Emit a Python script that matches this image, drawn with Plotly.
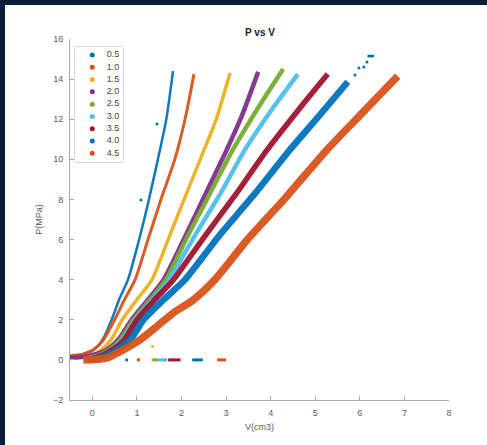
import plotly.graph_objects as go

# ---------------- data ----------------
series_names = ["0.5", "1.0", "1.5", "2.0", "2.5", "3.0", "3.5", "4.0", "4.5"]
series_colors = ["#0072BD", "#D95319", "#EDB120", "#7E2F8E", "#77AC30",
                 "#4DBEEE", "#A2142F", "#0072BD", "#D95319"]

v_05 = [-0.5, -0.25, 0.0, 0.15, 0.3, 0.45, 0.6, 0.8, 1.05, 1.27, 1.52, 1.66, 1.81]
p_05 = [0.15, 0.25, 0.45, 0.75, 1.3, 2.1, 3.0, 4.0, 6.0, 8.0, 10.5, 12.0, 14.4]

v_10 = [-0.5, -0.2, 0.05, 0.25, 0.5, 0.72, 0.96, 1.25, 1.54, 1.85, 2.08, 2.28]
p_10 = [0.2, 0.3, 0.55, 1.0, 2.0, 3.0, 4.0, 6.0, 8.0, 10.0, 12.0, 14.25]

v_15 = [-0.3, 0.0, 0.2, 0.42, 0.67, 1.0, 1.34, 1.7, 2.06, 2.42, 2.78, 3.09]
p_15 = [0.12, 0.25, 0.5, 1.0, 2.0, 3.0, 4.0, 6.0, 8.0, 10.0, 12.0, 14.3]

v_20 = [-0.5, -0.2, 0.1, 0.32, 0.58, 0.88, 1.25, 1.6, 2.05, 2.48, 3.0, 3.36, 3.72]
p_20 = [0.1, 0.15, 0.3, 0.5, 1.0, 2.0, 3.0, 4.0, 6.0, 8.0, 10.4, 12.2, 14.36]

v_25 = [-0.2, 0.1, 0.38, 0.63, 0.92, 1.3, 1.65, 2.1, 2.57, 3.15, 3.7, 4.28]
p_25 = [0.05, 0.2, 0.5, 1.0, 2.0, 3.0, 4.0, 6.0, 8.0, 10.47, 12.5, 14.5]

v_30 = [0.0, 0.2, 0.42, 0.68, 0.96, 1.35, 1.72, 2.3, 2.85, 3.42, 4.0, 4.61]
p_30 = [0.05, 0.2, 0.5, 1.0, 2.0, 3.0, 4.0, 6.2, 8.2, 10.47, 12.4, 14.25]

v_35 = [-0.1, 0.2, 0.45, 0.72, 1.0, 1.4, 1.82, 2.5, 3.2, 3.92, 4.6, 5.28]
p_35 = [0.0, 0.2, 0.5, 1.0, 2.0, 3.0, 4.0, 6.1, 8.2, 10.47, 12.4, 14.25]

v_40 = [0.0, 0.3, 0.55, 0.85, 1.15, 1.6, 2.08, 2.85, 3.65, 4.43, 5.1, 5.73]
p_40 = [0.0, 0.2, 0.5, 1.0, 2.0, 3.0, 4.0, 6.2, 8.3, 10.47, 12.2, 13.86]

v_45 = [-0.2, 0.1, 0.33, 0.69, 1.07, 1.45, 1.81, 2.27, 2.75, 3.48, 4.3, 5.26, 6.05, 6.85]
p_45 = [0.0, 0.03, 0.1, 0.5, 1.0, 1.67, 2.33, 3.0, 4.0, 6.0, 8.0, 10.47, 12.3, 14.15]

# points lying on P = 0 (start, end of each run of V)
zero_runs = [[0.74, 0.80], [1.0, 1.07], [1.33, 1.38], [1.62, 1.65], [1.36, 1.47],
             [1.47, 1.68], [1.70, 1.98], [2.24, 2.48], [2.80, 3.0]]

# sparse / stray points
stray_series = [0, 0, 2, 7, 7, 7, 7, 7, 7, 7]
stray_v = [1.45, 1.09, 1.35, 5.89, 5.98, 6.09, 6.16, 6.20, 6.25, 6.29]
stray_p = [11.76, 7.97, 0.67, 14.2, 14.55, 14.6, 14.85, 15.15, 15.15, 15.15]

curves_v = [v_05, v_10, v_15, v_20, v_25, v_30, v_35, v_40, v_45]
curves_p = [p_05, p_10, p_15, p_20, p_25, p_30, p_35, p_40, p_45]
band_widths = [2.5, 3, 3.5, 4.5, 4.5, 4.5, 5.5, 6.5, 7.5]

x_ticks = [0, 1, 2, 3, 4, 5, 6, 7, 8]
y_ticks = [-2, 0, 2, 4, 6, 8, 10, 12, 14, 16]

# ---------------- layout geometry (pixels) ----------------
W, H = 487, 445
L, R, T, B = 70, 449, 39, 400          # plot area edges
def px_x(p):
    return (p - L) / (R - L)
def px_y(p):
    return (B - p) / (B - T)

fig = go.Figure()

for i in range(len(series_names)):
    fig.add_trace(go.Scatter(
        x=curves_v[i], y=curves_p[i], mode="lines", name=series_names[i],
        line=dict(color=series_colors[i], width=band_widths[i], shape="spline", smoothing=0.6),
        opacity=0.95, showlegend=False, hoverinfo="skip"))
    fig.add_trace(go.Scatter(
        x=zero_runs[i], y=[0, 0], mode="lines", name=series_names[i],
        line=dict(color=series_colors[i], width=3),
        showlegend=False, hoverinfo="skip"))

fig.add_trace(go.Scatter(
    x=stray_v, y=stray_p, mode="markers", showlegend=False,
    marker=dict(size=3, color=[series_colors[k] for k in stray_series]),
    hoverinfo="skip"))

# custom compact legend on an overlay axis
idx = list(range(len(series_names)))
fig.add_trace(go.Scatter(
    x=[0.36] * len(idx), y=idx, mode="markers", xaxis="x2", yaxis="y2",
    marker=dict(size=5, color=series_colors), showlegend=False, hoverinfo="skip"))
fig.add_trace(go.Scatter(
    x=[0.66] * len(idx), y=idx, mode="text", xaxis="x2", yaxis="y2",
    text=series_names, textposition="middle right",
    textfont=dict(family="Liberation Sans, Arial, sans-serif", size=9, color="#444444"),
    showlegend=False, hoverinfo="skip"))

axis_col = "#a8a8a8"
tick_font = dict(family="Liberation Sans, Arial, sans-serif", size=9, color="#5a5a5a")

leg_top, leg_bot = 47, 162
row0, row8 = 55, 153.3
step = (row8 - row0) / 8

fig.update_layout(
    width=W, height=H, autosize=False,
    margin=dict(l=L, r=W - R, t=T, b=H - B, pad=0),
    paper_bgcolor="#0b1e37", plot_bgcolor="white",
    showlegend=False,
    title=dict(text="<b>P vs V</b>", x=260 / W,
               xanchor="center", y=1 - 32 / H, yanchor="middle",
               font=dict(family="Liberation Sans, Arial, sans-serif", size=10, color="#222222")),
    xaxis=dict(range=[-0.5, 8], tickvals=x_ticks, showline=True, linecolor=axis_col,
               linewidth=1, ticks="inside", ticklen=4, tickcolor=axis_col,
               showgrid=False, zeroline=False, tickfont=tick_font, ticklabelstandoff=4,
               title=dict(text="V(cm3)", font=tick_font, standoff=6)),
    yaxis=dict(range=[-2, 16], tickvals=y_ticks, showline=True, linecolor=axis_col,
               linewidth=1, ticks="inside", ticklen=4, tickcolor=axis_col,
               showgrid=False, zeroline=False, tickfont=tick_font, ticklabelstandoff=4,
               title=dict(text="P(MPa)", font=tick_font, standoff=8)),
    xaxis2=dict(domain=[px_x(75), px_x(123)], range=[0, 1], visible=False,
                anchor="y2", fixedrange=True),
    yaxis2=dict(domain=[px_y(leg_bot), px_y(leg_top)],
                range=[8 + (leg_bot - row8) / step, -(row0 - leg_top) / step],
                visible=False, anchor="x2", fixedrange=True),
    shapes=[
        dict(type="rect", xref="paper", yref="paper",
             x0=px_x(5), x1=px_x(W + 20), y0=px_y(H + 20), y1=px_y(5),
             line=dict(width=0), fillcolor="white", layer="below"),
        dict(type="rect", xref="paper", yref="paper",
             x0=px_x(75), x1=px_x(123), y0=px_y(leg_bot), y1=px_y(leg_top),
             line=dict(color="#b0b0b0", width=1), fillcolor="white", layer="below"),
    ],
)

fig.write_html(
    "out.html",
    post_script="document.documentElement.style.overflow='hidden';"
                "document.body.style.overflow='hidden';document.body.style.margin='0';",
)
